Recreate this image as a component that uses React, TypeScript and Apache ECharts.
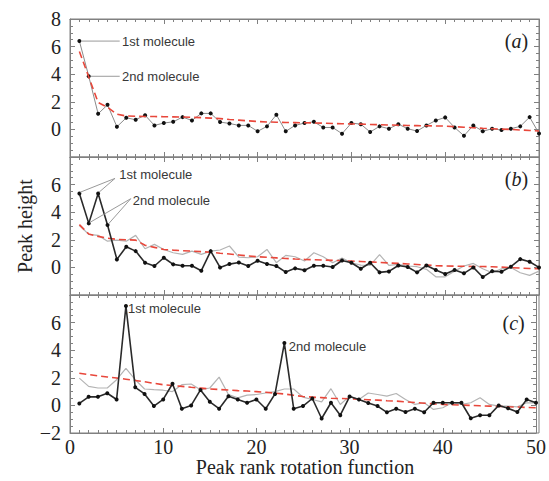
import { useEffect, useRef } from 'react';
import * as echarts from 'echarts';

const ranks = [
  1, 2, 3, 4, 5, 6, 7, 8, 9, 10, 11, 12, 13, 14, 15, 16, 17, 18, 19, 20, 21, 22, 23, 24, 25,
  26, 27, 28, 29, 30, 31, 32, 33, 34, 35, 36, 37, 38, 39, 40, 41, 42, 43, 44, 45, 46, 47, 48, 49, 50,
];

// Panel (a)
const aMain = [
  6.4, 3.85, 1.13, 1.78, 0.19, 0.84, 0.7, 1.03, 0.29, 0.46, 0.55, 0.89, 0.65, 1.16, 1.16, 0.53, 0.43, 0.29, 0.29, -0.14,
  0.22, 1.06, -0.14, 0.29, 0.46, 0.55, 0.14, 0.14, -0.31, 0.46, 0.38, -0.19, 0.22, 0.05, 0.38, 0.05, -0.12, 0.29, 0.65, 0.87,
  0.14, -0.46, 0.29, -0.14, 0.05, -0.05, 0.05, 0.22, 0.89, -0.29,
];
const aFit = [
  5.65, 3.8, 1.95, 1.6, 1.1, 0.97, 0.95, 0.94, 0.93, 0.92, 0.91, 0.9, 0.88, 0.85, 0.82, 0.78, 0.72, 0.67, 0.62, 0.57,
  0.54, 0.52, 0.5, 0.49, 0.48, 0.47, 0.45, 0.43, 0.41, 0.39, 0.38, 0.36, 0.34, 0.32, 0.3, 0.28, 0.27, 0.26, 0.25, 0.24,
  0.2, 0.16, 0.12, 0.08, 0.05, 0.02, 0.0, -0.04, -0.08, -0.12,
];

// Panel (b)
const bMain = [
  5.36, 3.19, 5.36, 3.07, 0.58, 1.5, 1.18, 0.34, 0.1, 0.7, 0.22, 0.12, 0.12, -0.24, 1.18, 0.0, 0.24, 0.36, 0.1, 0.48,
  0.24, 0.1, -0.34, -0.07, -0.2, 0.12, 0.12, 0.03, 0.5, 0.34, -0.1, 0.34, -0.36, -0.29, 0.14, 0.03, -0.36, 0.14, -0.19, -0.48,
  -0.19, -0.43, 0.0, -0.7, -0.27, -0.31, 0.05, 0.6, 0.41, 0.0,
];
const bSecond = [
  3.04, 2.39, 2.32, 1.9, 1.98, 1.9, 2.32, 1.35, 1.67, 1.3, 1.06, 0.94, 1.18, 0.94, 1.18, 1.26, 1.55, 0.75, 0.7, 0.77,
  1.3, 0.34, 0.87, 0.77, 0.46, 1.06, 0.77, 0.34, 0.68, 0.34, 0.17, 0.14, 0.92, 0.14, 0.22, 0.1, 0.05, -0.14, -0.68, -0.68,
  -0.27, 0.1, 0.29, -0.1, -0.39, -0.1, 0.0, -0.39, -0.58, -0.27,
];
const bFit = [
  3.1, 2.42, 2.25, 2.12, 2.03, 2.0, 1.98, 1.6, 1.45, 1.3, 1.25, 1.21, 1.18, 1.14, 1.1, 1.03, 0.97, 0.9, 0.83, 0.77,
  0.73, 0.69, 0.65, 0.61, 0.58, 0.56, 0.53, 0.51, 0.48, 0.46, 0.43, 0.4, 0.36, 0.32, 0.29, 0.25, 0.21, 0.17, 0.13, 0.1,
  0.09, 0.08, 0.07, 0.06, 0.05, 0.02, -0.02, -0.05, -0.08, -0.1,
];

// Panel (c)
const cMain = [
  0.14, 0.62, 0.62, 0.88, 0.43, 7.2, 1.31, 0.83, -0.05, 0.43, 1.57, -0.24, 0.0, 1.12, 0.26, -0.24, 0.67, 0.43, 0.19, 0.43,
  -0.24, 0.83, 4.52, -0.24, -0.05, 0.5, -0.95, 0.19, -0.71, 0.64, 0.43, 0.17, -0.05, -0.5, -0.24, -0.48, -0.24, -0.5, 0.19, 0.19,
  0.19, 0.19, -0.93, -0.71, -0.71, 0.0, -0.21, -0.48, 0.43, 0.19,
];
const cSecond = [
  1.98, 1.38, 1.26, 1.26, 1.86, 2.69, 1.86, 1.19, 1.14, 1.1, 1.0, 1.5, 1.55, 1.14, 1.26, 2.05, 0.79, 0.55, 0.74, 0.79,
  0.9, 1.0, 1.19, 1.19, 0.6, 0.43, 0.26, 1.21, 0.07, 0.67, 0.43, 0.9, 0.79, 0.67, 0.86, 0.43, 0.07, 0.19, -0.29, -0.17,
  0.19, 0.07, 0.19, 0.55, 0.07, -0.05, -0.05, -0.1, 0.19, 0.19,
];
const cFit = [
  2.33, 2.24, 2.14, 2.06, 1.98, 1.9, 1.81, 1.71, 1.6, 1.5, 1.44, 1.38, 1.31, 1.25, 1.19, 1.15, 1.11, 1.07, 1.04, 1.0,
  0.95, 0.89, 0.83, 0.73, 0.64, 0.6, 0.56, 0.52, 0.5, 0.48, 0.45, 0.41, 0.38, 0.34, 0.31, 0.26, 0.21, 0.16, 0.11, 0.07,
  0.05, 0.02, 0.0, -0.03, -0.05, -0.07, -0.1, -0.12, -0.15, -0.17,
];

const panelLabels = ['a', 'b', 'c'];
const yHidden = [[-2], [-2, 8], [8]];
const xTickLabels = [0, 10, 20, 30, 40, 50];

type Ann = { grid: number; text: string; tx: number; ty: number; lines: number[][] };
const annotations: Ann[] = [
  { grid: 0, text: '1st molecule', tx: 5.55, ty: 6.4, lines: [[5.3, 6.4, 1.2, 6.4]] },
  { grid: 0, text: '2nd molecule', tx: 5.55, ty: 3.85, lines: [[5.3, 3.85, 2.2, 3.85]] },
  { grid: 1, text: '1st molecule', tx: 5.26, ty: 6.74, lines: [[4.8, 6.45, 1.1, 5.45], [4.8, 6.45, 3.1, 5.45]] },
  { grid: 1, text: '2nd molecule', tx: 6.69, ty: 4.88, lines: [[6.48, 4.98, 2.1, 3.25], [6.48, 4.98, 4.1, 3.15]] },
  { grid: 2, text: '1st molecule', tx: 6.22, ty: 7.0, lines: [] },
  { grid: 2, text: '2nd molecule', tx: 23.48, ty: 4.3, lines: [] },
];
const labelPos = [[47.6, 6.4], [47.6, 6.4], [47.6, 6.0]];

const SERIF = '"Liberation Serif", "Times New Roman", serif';
const SANS = '"Liberation Sans", Arial, sans-serif';
const FRAME = '#808080';

export default function App() {
  const ref = useRef<HTMLDivElement>(null);
  useEffect(() => {
    if (!ref.current) return;
    const chart = echarts.init(ref.current, null, { renderer: 'svg' });
    const tops = [19, 157, 295];
    const grids = tops.map((t) => ({ left: 70, top: t, width: 469, height: 138, show: false }));
    const xAxes: any[] = [];
    const yAxes: any[] = [];
    tops.forEach((_, k) => {
      const common = {
        gridIndex: k,
        type: 'value',
        min: 0,
        max: 50,
        interval: 10,
        splitLine: { show: false },
        axisLine: { show: true, onZero: false, lineStyle: { color: FRAME, width: 1 } },
        axisTick: { show: true, inside: true, length: 5, lineStyle: { color: FRAME } },
        minorTick: { show: true, splitNumber: 10, length: 3, lineStyle: { color: FRAME } },
      };
      xAxes.push({
        ...common,
        position: 'bottom',
        axisLabel: {
          show: k === 2,
          color: '#222',
          fontFamily: SERIF,
          fontSize: 20,
          margin: 4,
          formatter: (v: number) => (xTickLabels.includes(v) ? String(v) : ''),
        },
      });
      xAxes.push({ ...common, position: 'top', axisLabel: { show: false } });
      const ycommon = {
        gridIndex: k,
        type: 'value',
        min: -2,
        max: 8,
        interval: 2,
        splitLine: { show: false },
        axisLine: { show: true, onZero: false, lineStyle: { color: FRAME, width: 1 } },
        axisTick: { show: true, inside: true, length: 5, lineStyle: { color: FRAME } },
        minorTick: { show: true, splitNumber: 4, length: 3, lineStyle: { color: FRAME } },
      };
      yAxes.push({
        ...ycommon,
        position: 'left',
        axisLabel: {
          show: true,
          color: '#222',
          fontFamily: SERIF,
          fontSize: 20,
          margin: 9,
          formatter: (v: number) =>
            yHidden[k].includes(v) ? '' : v < 0 ? '\u2212' + Math.abs(v) : String(v),
        },
      });
      yAxes.push({ ...ycommon, position: 'right', axisLabel: { show: false } });
    });

    const pairs = (arr: number[]) => ranks.map((r, i) => [r, arr[i]]);
    const fitSeries = (arr: number[], k: number) => ({
      type: 'line',
      xAxisIndex: 2 * k,
      yAxisIndex: 2 * k,
      data: pairs(arr),
      symbol: 'none',
      lineStyle: { color: '#e8473b', width: 1.6, type: [7, 4] },
      z: 3,
    });
    const grayLine = (arr: number[], k: number) => ({
      type: 'line',
      xAxisIndex: 2 * k,
      yAxisIndex: 2 * k,
      data: pairs(arr),
      symbol: 'none',
      lineStyle: { color: '#b4b4b4', width: 1.2 },
      z: 2,
    });
    const mainLine = (arr: number[], k: number, thin: boolean) => ({
      type: 'line',
      xAxisIndex: 2 * k,
      yAxisIndex: 2 * k,
      data: pairs(arr),
      symbol: 'circle',
      symbolSize: 4,
      itemStyle: { color: '#111' },
      lineStyle: { color: thin ? '#8a8a8a' : '#2a2a2a', width: thin ? 1 : 1.6 },
      z: thin ? 2 : 4,
    });

    const series: any[] = [
      mainLine(aMain, 0, true),
      fitSeries(aFit, 0),
      grayLine(bSecond, 1),
      fitSeries(bFit, 1),
      mainLine(bMain, 1, false),
      grayLine(cSecond, 2),
      fitSeries(cFit, 2),
      mainLine(cMain, 2, false),
    ];

    chart.setOption({
      animation: false,
      grid: grids,
      xAxis: xAxes,
      yAxis: yAxes,
      series,
    });

    const toPx = (k: number, x: number, y: number) =>
      chart.convertToPixel({ gridIndex: k } as any, [x, y]) as number[];

    const graphics: any[] = [];
    tops.forEach((t) => {
      graphics.push({
        type: 'rect',
        shape: { x: 70, y: t, width: 469, height: 138 },
        style: { fill: 'none', stroke: FRAME, lineWidth: 1 },
        silent: true,
        z: 1,
      });
    });
    annotations.forEach((a) => {
      a.lines.forEach((l) => {
        const p1 = toPx(a.grid, l[0], l[1]);
        const p2 = toPx(a.grid, l[2], l[3]);
        graphics.push({
          type: 'line',
          shape: { x1: p1[0], y1: p1[1], x2: p2[0], y2: p2[1] },
          style: { stroke: '#9a9a9a', lineWidth: 1 },
          z: 10,
        });
      });
      const tp = toPx(a.grid, a.tx, a.ty);
      graphics.push({
        type: 'text',
        x: tp[0],
        y: tp[1],
        style: {
          text: a.text,
          fontFamily: SANS,
          fontSize: 13,
          fill: '#383838',
          align: 'left',
          verticalAlign: 'middle',
        },
        z: 10,
      });
    });
    panelLabels.forEach((lab, k) => {
      const p = toPx(k, labelPos[k][0], labelPos[k][1]);
      graphics.push({
        type: 'text',
        x: p[0],
        y: p[1],
        style: {
          text: '{p|(}{i|' + lab + '}{p|)}',
          align: 'center',
          verticalAlign: 'middle',
          rich: {
            p: { fontFamily: SERIF, fontSize: 20, fill: '#222' },
            i: { fontFamily: SERIF, fontSize: 20, fontStyle: 'italic', fill: '#222' },
          },
        },
        z: 10,
      });
    });
    graphics.push({
      type: 'text',
      x: 25,
      y: 226,
      rotation: Math.PI / 2,
      style: {
        text: 'Peak height',
        fontFamily: SERIF,
        fontSize: 20,
        fill: '#222',
        align: 'center',
        verticalAlign: 'middle',
      },
    });
    graphics.push({
      type: 'text',
      x: 305,
      y: 467,
      style: {
        text: 'Peak rank rotation function',
        fontFamily: SERIF,
        fontSize: 20,
        fill: '#222',
        align: 'center',
        verticalAlign: 'middle',
      },
    });
    chart.setOption({ graphic: graphics });

    return () => chart.dispose();
  }, []);
  return <div ref={ref} style={{ width: 549, height: 481, position: 'absolute', left: 0, top: 0 }} />;
}
